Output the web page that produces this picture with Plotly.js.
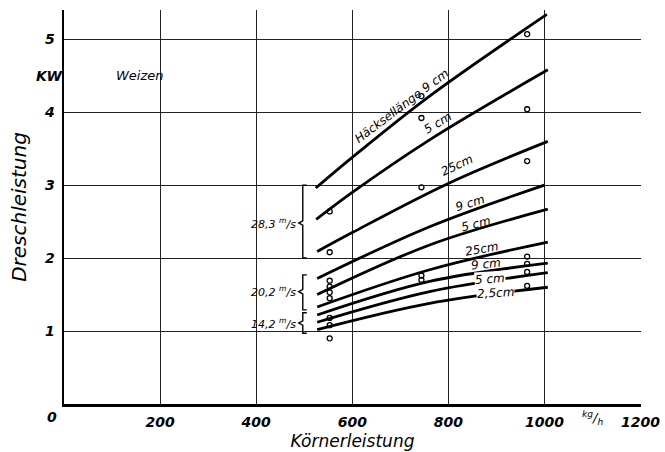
<!DOCTYPE html>
<html><head><meta charset="utf-8">
<script src="https://cdn.plot.ly/plotly-3.0.1.min.js"></script>
<style>html,body{margin:0;padding:0;background:#fff}#chart{width:665px;height:452px}</style>
</head><body><div id="chart"></div>
<script>
// ---- data ----
const xTicks = [200, 400, 600, 800, 1000, 1200];
const yTicks = [1, 2, 3, 4, 5];

// Dreschleistung curves (kW) vs Körnerleistung (kg/h)
const c1x = [524, 600, 761, 1005], c1y = [2.96, 3.38, 4.22, 5.34]; // 28,3 m/s  9 cm
const c2x = [525, 600, 761, 1007], c2y = [2.53, 2.90, 3.62, 4.58]; // 28,3 m/s  5 cm
const c3x = [527, 600, 802, 1007], c3y = [2.09, 2.35, 3.03, 3.60]; // 28,3 m/s 25 cm
const c4x = [527, 761, 1000], c4y = [1.72, 2.43, 3.00]; // 20,2 m/s 9 cm
const c5x = [527, 761, 1007], c5y = [1.50, 2.18, 2.67]; // 20,2 m/s 5 cm
const c6x = [527, 761, 1007], c6y = [1.33, 1.84, 2.22]; // 20,2 m/s 25 cm
const c7x = [527, 761, 1007], c7y = [1.22, 1.68, 1.93]; // 14,2 m/s 9 cm
const c8x = [527, 761, 1007], c8y = [1.12, 1.54, 1.80]; // 14,2 m/s 5 cm
const c9x = [527, 761, 1007], c9y = [1.02, 1.38, 1.60]; // 14,2 m/s 2,5 cm

const curveLabels = ['Häcksellänge 9 cm', '5 cm', '25cm', '9 cm', '5 cm', '25cm', '9 cm', '5 cm', '2,5cm'];

// measured points (open circles)
const ptsX553 = [553, 553, 553, 553, 553, 553, 553, 553, 553];
const ptsY553 = [2.64, 2.08, 1.69, 1.61, 1.53, 1.45, 1.18, 1.08, 0.90];
const ptsX744 = [744, 744, 744, 744, 744];
const ptsY744 = [4.22, 3.92, 2.97, 1.76, 1.70];
const ptsX964 = [964, 964, 964, 964, 964, 964, 964];
const ptsY964 = [5.07, 4.04, 3.33, 2.02, 1.92, 1.81, 1.62];

// speed groups (braces)
const groupLabels = ['28,3 <sup>m</sup>/s', '20,2 <sup>m</sup>/s', '14,2 <sup>m</sup>/s'];
const groupTop    = [3.00, 1.77, 1.25];
const groupMid    = [2.48, 1.54, 1.11];
const groupBottom = [2.00, 1.29, 0.97];
const groupX = 497;

// ---- drawing ----
const FONT = 'DejaVu Sans';
const curves = [[c1x,c1y],[c2x,c2y],[c3x,c3y],[c4x,c4y],[c5x,c5y],[c6x,c6y],[c7x,c7y],[c8x,c8y],[c9x,c9y]];
const traces = curves.map(([x,y], i) => ({
  x, y, mode: 'lines', type: 'scatter', name: curveLabels[i], hoverinfo: 'skip',
  line: {color: '#000', width: 2.8, shape: 'spline', smoothing: 1}
}));
traces.push({
  x: ptsX553.concat(ptsX744, ptsX964), y: ptsY553.concat(ptsY744, ptsY964),
  mode: 'markers', type: 'scatter', name: 'Messpunkte',
  marker: {symbol: 'circle-open', size: 5, color: '#000', line: {width: 1.3, color: '#000'}}
});

// curve label placement (layout only)
const labelPos = [
  {x: 703, y: 4.08, a: -37},
  {x: 778, y: 3.85, a: -31},
  {x: 819, y: 3.28, a: -25},
  {x: 846, y: 2.76, a: -17},
  {x: 857, y: 2.47, a: -14},
  {x: 869, y: 2.13, a: -10},
  {x: 879, y: 1.92, a: -6},
  {x: 886, y: 1.72, a: -4, bg: true},
  {x: 898, y: 1.52, a: -3, bg: true}
];
const tf = (s, w) => ({family: FONT, size: s, color: '#000', style: 'italic', weight: w || 'normal'});
const annotations = curveLabels.map((t, i) => ({
  x: labelPos[i].x, y: labelPos[i].y, text: t, showarrow: false, textangle: labelPos[i].a,
  font: tf(12), bgcolor: labelPos[i].bg ? 'rgba(255,255,255,1)' : 'rgba(0,0,0,0)', borderpad: 0
}));
groupLabels.forEach((t, i) => annotations.push({
  x: groupX, y: groupMid[i], text: t, showarrow: false, xanchor: 'right', xshift: -5,
  font: tf(11)
}));
annotations.push({x: 0, y: 0, text: '0', showarrow: false, xshift: -12, yshift: -13, font: tf(14, 'bold')});
annotations.push({x: 0, y: 4.5, text: 'KW', showarrow: false, xshift: -15, font: tf(14, 'bold')});
annotations.push({x: 158, y: 4.5, text: 'Weizen', showarrow: false, font: tf(13)});
annotations.push({x: 1100, y: 0, text: '<sup>kg</sup>/<sub>h</sub>', showarrow: false, yshift: -14, font: tf(13)});

const shapes = groupLabels.map((t, i) => ({
  type: 'path', xref: 'x', yref: 'y', xsizemode: 'pixel', xanchor: groupX,
  path: `M 4,${groupTop[i]} L 0,${groupTop[i]} L 0,${(groupMid[i]+0.03).toFixed(3)} L -4,${groupMid[i]} L 0,${(groupMid[i]-0.03).toFixed(3)} L 0,${groupBottom[i]} L 4,${groupBottom[i]}`,
  line: {color: '#000', width: 1.4}
}));

const axisCommon = {
  showgrid: true, gridcolor: '#222', gridwidth: 1, zeroline: false,
  showline: true, linecolor: '#000', linewidth: 2.5, ticks: '',
  tickfont: tf(14, 'bold'), fixedrange: true
};
const layout = {
  width: 665, height: 452, margin: {l: 64, r: 24, t: 10, b: 48},
  paper_bgcolor: '#fff', plot_bgcolor: '#fff', showlegend: false,
  xaxis: Object.assign({}, axisCommon, {
    range: [0, 1201], tickvals: xTicks, ticktext: xTicks.map(String), ticklabelstandoff: 4,
    title: {text: 'Körnerleistung', font: tf(17), standoff: 6}
  }),
  yaxis: Object.assign({}, axisCommon, {
    range: [0, 5.4], tickvals: yTicks, ticktext: yTicks.map(String), ticklabelstandoff: 4,
    title: {text: 'Dreschleistung', font: tf(20), standoff: 12}
  }),
  annotations, shapes
};
Plotly.newPlot('chart', traces, layout, {staticPlot: true, displayModeBar: false});
</script>
</body></html>
